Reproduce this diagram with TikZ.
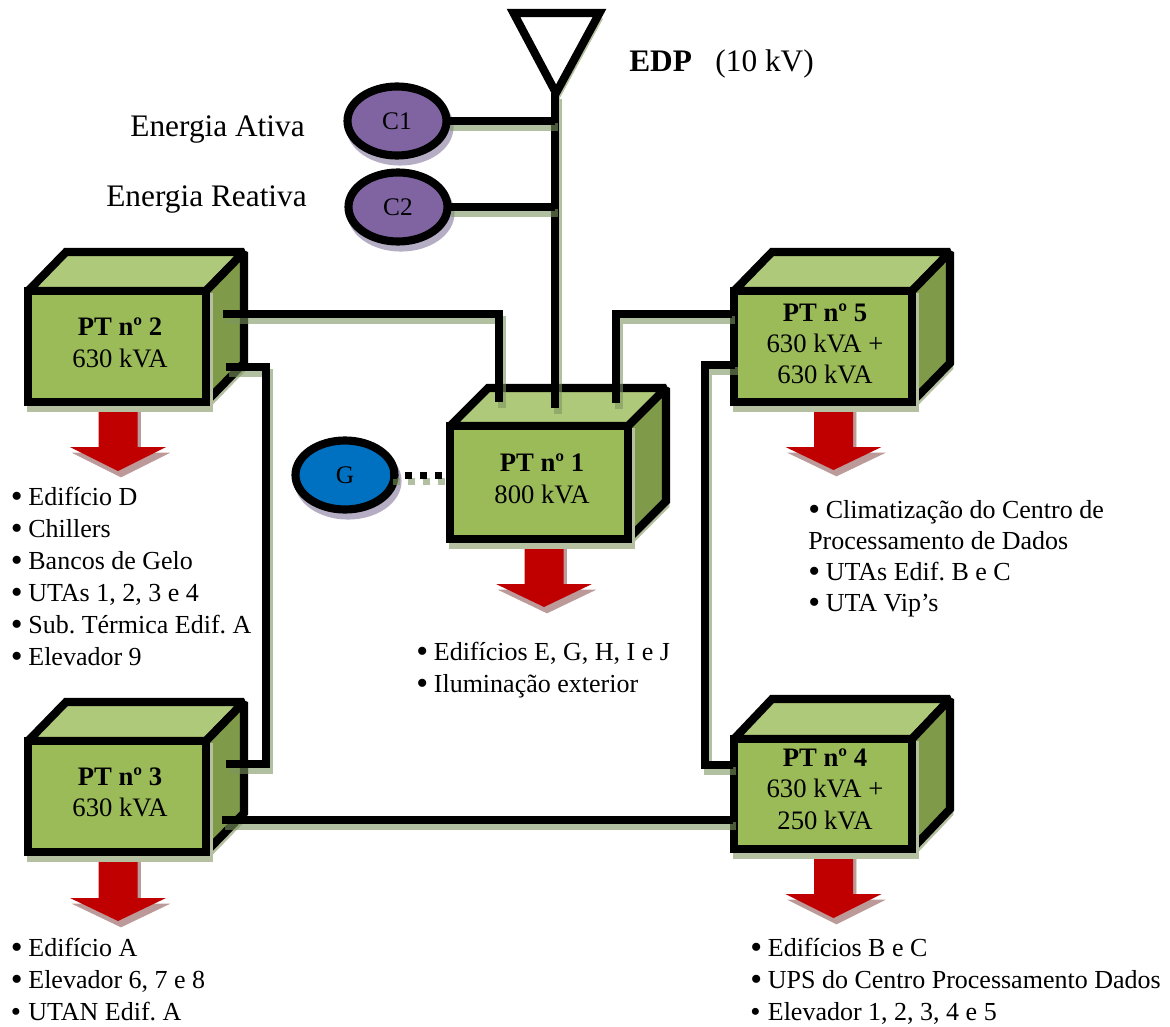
\documentclass[tikz,border=0pt]{standalone}
\usepackage{fontspec}
\usetikzlibrary{shapes.geometric,calc}
\setmainfont{Liberation Serif}
\definecolor{frontgreen}{HTML}{9BBB59}
\definecolor{topgreen}{HTML}{AFC97A}
\definecolor{sidegreen}{HTML}{7F9A48}
\definecolor{shgreen}{HTML}{B4C0A0}
\definecolor{shwire}{HTML}{7D9660}
\definecolor{shpurple}{HTML}{B5ADC4}
\definecolor{shred}{HTML}{BD9A9A}
\definecolor{meterpurple}{HTML}{8064A2}
\definecolor{genblue}{HTML}{0070C0}
\definecolor{arrowred}{HTML}{C00000}
\newcommand{\bl}{\makebox[13.2pt][l]{\raisebox{-1.4pt}{\scalebox{1.3}{\textbullet}}}}
\newcommand{\bls}{\makebox[13.2pt][l]{\raisebox{-0.6pt}{\scalebox{1.12}{\textbullet}}}}
\tikzset{
  x=.75pt,y=-.75pt,
  sh/.style={preaction={draw=#1,fill=#1,transform canvas={shift={(2.25pt,-4.5pt)}}}},
  shline/.style={preaction={draw=shwire,opacity=.6,line width=6.1pt,transform canvas={shift={(2.25pt,-4.5pt)}}}},
  shdots/.style={preaction={draw=shwire,opacity=.6,line width=5.25pt,dash pattern=on 5.25pt off 6.2pt,transform canvas={shift={(2.25pt,-4.5pt)}}}},
  boxline/.style={draw=black,line width=6.1pt,line join=miter,miter limit=2.2},
  topface/.style={boxline,fill=topgreen},
  sideface/.style={boxline,fill=sidegreen},
  frontface/.style={boxline,fill=frontgreen,rectangle,inner sep=0pt,outer sep=0pt,anchor=north west},
  boxtext/.style={inner sep=0pt,align=center,font=\fontsize{20}{23.5}\selectfont},
  meter/.style={ellipse,draw=black,line width=6.1pt,fill=meterpurple,sh=shpurple,outer sep=0pt,minimum width=74.25pt,minimum height=51.75pt,inner sep=0pt,font=\fontsize{19}{22}\selectfont},
  wire/.style={draw=black,line width=6.1pt,line join=miter,shline},
  gendots/.style={draw=black,line width=5.25pt,dash pattern=on 5.25pt off 6.2pt,shdots},
  feedarrow/.style={fill=arrowred,draw=none,sh=shred},
  label/.style={inner sep=0pt,font=\fontsize{23.5}{28}\selectfont},
  list/.style={inner sep=0pt,anchor=north west,align=left,font=\frenchspacing\fontsize{19.5}{24}\selectfont},
}
\newcommand{\feed}[4]{% cx, top, headtop, tip
  \path[feedarrow] (#1-19.5,#2) -- (#1+19.5,#2) -- (#1+19.5,#3) -- (#1+48,#3) -- (#1,#4) -- (#1-48,#3) -- (#1-19.5,#3) -- cycle;}
% name, left, top, right, bottom, back-top offset, text x, text y, text
\newcommand{\ptbox}[9]{%
  \path[topface,sh=shgreen] (#2,#3) -- (#2+38,#3-#6) -- (#4+38,#3-#6) -- (#4,#3) -- cycle;
  \path[sideface,sh=shgreen] (#4,#3) -- (#4+38,#3-#6) -- (#4+38,#5-#6) -- (#4,#5) -- cycle;
  \path (#2,#3) coordinate (#1nw) (#4,#5) coordinate (#1se);
  \path let \p1=(#1nw),\p2=(#1se) in
    node[frontface,sh=shgreen,minimum width=\x2-\x1,minimum height=\y1-\y2] (#1) at (#1nw) {};
  \node[boxtext] (#1text) at (#7,#8) {#9};}
\begin{document}
\begin{tikzpicture}
\useasboundingbox (0,0) rectangle (1170,1027);
% named connector ends
\coordinate (anttip) at (556,93);
\coordinate (j1) at (555,121);
\coordinate (j2) at (555,207);
\coordinate (pt1c) at (555,408);
\coordinate (pt1l) at (499,402);
\coordinate (pt1r) at (616,403);
\coordinate (pt2a) at (223,314);
\coordinate (pt2b) at (226,367);
\coordinate (pt3a) at (226,764);
\coordinate (pt3b) at (222,820);
\coordinate (pt4a) at (733,765);
\coordinate (pt4b) at (733,820);
\coordinate (pt5a) at (732,314);
\coordinate (pt5b) at (735,365);
\coordinate (bus) at (266,367);
\coordinate (busr) at (705,365);
\coordinate (gstart) at (389.5,475);
% feeder arrows
\feed{118}{400}{447}{471}
\feed{544}{535}{584}{607}
\feed{833.5}{400}{447}{470}
\feed{118}{850}{898}{921}
\feed{833.5}{848}{894}{918}
% substations
\ptbox{pt2}{28}{291}{206}{402}{39}{120}{343}{\textbf{PT nº 2}\\630 kVA}
\ptbox{pt1}{450}{426}{628}{539}{38}{542}{479}{\textbf{PT nº 1}\\800 kVA}
\ptbox{pt5}{734}{291}{912}{402}{39}{825}{344}{\textbf{PT nº 5}\\630 kVA +\\630 kVA}
\ptbox{pt3}{28}{741}{206}{852}{39}{120}{792}{\textbf{PT nº 3}\\630 kVA}
\ptbox{pt4}{734}{739}{912}{849}{40}{825}{789}{\textbf{PT nº 4}\\630 kVA +\\250 kVA}
% antenna
\path[boxline,fill=white,sh=shgreen] (513.5,13) -- (599.5,13) -- (anttip) -- cycle;
% meters and generator
\node[meter] (c1) at (397,121) {C1};
\node[meter] (c2) at (398,207) {C2};
\node[meter,fill=genblue] (g) at (345,475) {G};
% connectors
\draw[wire] (anttip -| pt1c) -- (pt1c);
\draw[wire] (c1.east) -- (j1);
\draw[wire] (c2.east) -- (j2);
\draw[wire] (pt2a) -| (pt1l);
\draw[wire] (pt5a) -| (pt1r);
\draw[wire] (pt2b) -- (bus) |- (pt3a);
\draw[wire] (pt3b) -- (pt4b);
\draw[wire] (pt5b) -- (busr) |- (pt4a);
\draw[gendots] (gstart) -- (pt1.west |- gstart);
% labels
\node[label,anchor=east] (lblc1) at (305,130) {Energia Ativa};
\node[label,anchor=east] (lblc2) at (307,200) {Energia Reativa};
\node[label,anchor=west] (lbledp) at (629,64) {\textbf{EDP}\hspace{.75em}(10 kV)};
\node[list] (l2) at (10.5,487) {\bl Edifício D\\\bl Chillers\\\bl Bancos de Gelo\\\bl UTAs 1, 2, 3 e 4\\\bl Sub. Térmica Edif. A\\\bl Elevador 9};
\node[list] (l1) at (416,642) {\bl Edifícios E, G, H, I e J\\\bl Iluminação exterior};
\node[list,font=\frenchspacing\fontsize{19.5}{23.4}\selectfont] (l5) at (808,500) {\bl Climatização do Centro de\\Processamento de Dados\\\bl UTAs Edif. B e C\\\bl UTA Vip’s};
\node[list] (l3) at (10.5,938) {\bl Edifício A\\\bl Elevador 6, 7 e 8\\\bls UTAN Edif. A};
\node[list] (l4) at (750,938) {\bl Edifícios B e C\\\bl UPS do Centro Processamento Dados\\\bls Elevador 1, 2, 3, 4 e 5};
\end{tikzpicture}
\end{document}
